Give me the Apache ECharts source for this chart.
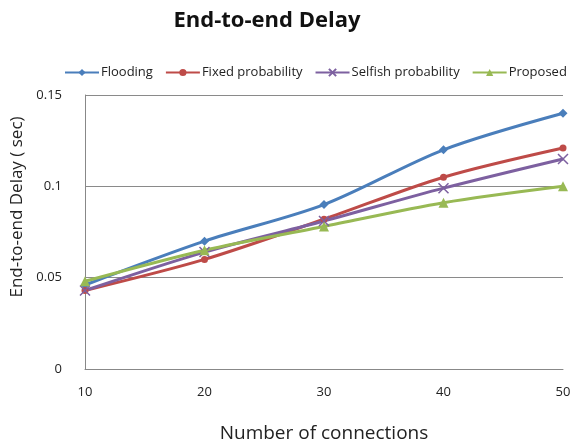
<!DOCTYPE html>
<html>
<head>
<meta charset="utf-8">
<script src="https://cdn.jsdelivr.net/npm/echarts@6/dist/echarts.min.js"></script>
<style>
  html, body { margin: 0; padding: 0; background: #fff; }
  #chart { width: 580px; height: 441px; }
</style>
</head>
<body>
<div id="chart"></div>
<script>
// Number of connections (x values)
const connections = [10, 20, 30, 40, 50];

// End-to-end delay in seconds for each scheme
const flooding = [0.046, 0.070, 0.090, 0.120, 0.140];
const fixedProbability = [0.043, 0.060, 0.082, 0.105, 0.121];
const selfishProbability = [0.043, 0.064, 0.081, 0.099, 0.115];
const proposed = [0.048, 0.065, 0.078, 0.091, 0.100];

const seriesNames = ['Flooding', 'Fixed probability', 'Selfish probability', 'Proposed'];
const colors = ['#4a7ebb', '#be4b48', '#7d60a0', '#98b954'];
const crossPath = 'path://M0,0 L10,10 M10,0 L0,10';

function pairs(values) {
  return connections.map((c, i) => [c, values[i]]);
}

function makeSeries(name, values, color, symbol, size, extra) {
  return Object.assign({
    name: name,
    type: 'line',
    data: pairs(values),
    smooth: 0.3,
    symbol: symbol,
    symbolSize: size,
    showSymbol: true,
    lineStyle: { color: color, width: 3 },
    itemStyle: { color: color }
  }, extra || {});
}

const chart = echarts.init(document.getElementById('chart'), null, { renderer: 'canvas' });

chart.setOption({
  backgroundColor: '#ffffff',
  animation: false,
  textStyle: { fontFamily: 'Open Sans' },
  title: {
    text: 'End-to-end Delay',
    left: 262,
    textAlign: 'center',
    top: 5,
    textStyle: { fontSize: 22, fontWeight: 'bold', color: '#111', fontFamily: 'Open Sans' }
  },
  legend: {
    top: 61,
    left: 59,
    itemWidth: 34,
    itemHeight: 9,
    itemGap: 12,
    textStyle: { fontSize: 13, color: '#222', padding: [0, 0, 0, -3] },
    data: seriesNames
  },
  grid: { left: 85, right: 17, top: 95, bottom: 72, outerBoundsMode: 'none' },
  xAxis: {
    type: 'value',
    min: 10,
    max: 50,
    interval: 10,
    name: 'Number of connections',
    nameLocation: 'middle',
    nameGap: 55,
    nameTextStyle: { fontSize: 19, color: '#222' },
    axisLine: { lineStyle: { color: '#888', width: 1 } },
    axisTick: { show: false },
    axisLabel: { fontSize: 13, color: '#222', margin: 17 },
    splitLine: { show: false }
  },
  yAxis: {
    type: 'value',
    min: 0,
    max: 0.15,
    interval: 0.05,
    name: 'End-to-end Delay ( sec)',
    nameLocation: 'middle',
    nameGap: 52,
    nameRotate: 90,
    nameTextStyle: { fontSize: 17, color: '#222', padding: [0, 0, 0, 50] },
    axisLine: { show: true, lineStyle: { color: '#888', width: 1 } },
    axisTick: { show: false },
    axisLabel: { fontSize: 13, color: '#222', margin: 23 },
    splitLine: { show: true, lineStyle: { color: '#8a8a8a', width: 1 } }
  },
  series: [
    makeSeries(seriesNames[0], flooding, colors[0], 'diamond', 9),
    makeSeries(seriesNames[1], fixedProbability, colors[1], 'circle', 7),
    makeSeries(seriesNames[2], selfishProbability, colors[2], crossPath, 10,
      { itemStyle: { color: 'none', borderColor: colors[2], borderWidth: 1.5 } }),
    makeSeries(seriesNames[3], proposed, colors[3], 'triangle', 10)
  ]
});
</script>
</body>
</html>
